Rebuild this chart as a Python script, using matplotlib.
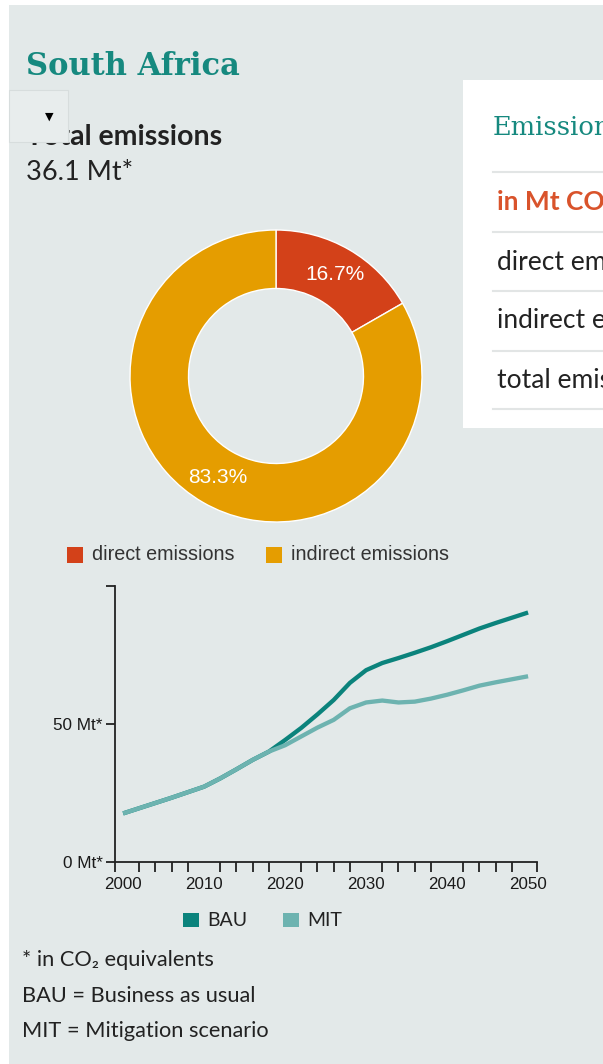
import numpy as np
import matplotlib.pyplot as plt
from matplotlib.patches import Rectangle
from matplotlib.lines import Line2D

W, H = 603, 1064

# donut: share of total emissions (36.1 Mt CO2e)
total_mt = 36.1
share_names = ['direct emissions', 'indirect emissions']
shares = [16.7, 83.3]
share_colors = ['#d34119', '#e59d00']

# scenario lines, Mt CO2e
years = np.arange(2000, 2051, 2)
bau = [17.6, 19.5, 21.4, 23.3, 25.3, 27.3, 30.3, 33.6, 37.0, 40.0,
       44.2, 48.6, 53.5, 58.7, 64.9, 69.5, 72.1, 73.9, 75.8, 77.8,
       80.0, 82.3, 84.6, 86.6, 88.5, 90.4]
mit = [17.6, 19.5, 21.4, 23.3, 25.3, 27.3, 30.3, 33.6, 37.0, 40.0,
       42.3, 45.5, 48.7, 51.5, 55.7, 57.8, 58.5, 57.8, 58.1, 59.2,
       60.6, 62.2, 63.9, 65.1, 66.2, 67.3]
line_names = ['BAU', 'MIT']
line_colors = ['#0b837c', '#6db3b0']

table_rows = ['in Mt CO\u2082', 'direct emissions', 'indirect emissions', 'total emissions']

BG = '#e3e9e9'
TEAL = '#16897f'
SANS = ['Lato', 'DejaVu Sans']
ARIAL = ['Liberation Sans', 'DejaVu Sans']


def fx(x):
    return x / W


def fy(y):
    return 1 - y / H


def ftext(x, y, s, **kw):
    kw.setdefault('va', 'baseline')
    kw.setdefault('family', SANS)
    kw.setdefault('color', '#222222')
    fig.text(fx(x), fy(y), s, **kw)


def frect(x0, y0, x1, y1, **kw):
    fig.patches.append(Rectangle((fx(x0), fy(y1)), (x1 - x0) / W, (y1 - y0) / H,
                                 transform=fig.transFigure, **kw))


fig = plt.figure(figsize=(W / 100, H / 100), dpi=100)
fig.patch.set_facecolor('white')
frect(9, 5, W, H, facecolor=BG, edgecolor='none', zorder=-2)

# header
ftext(26, 75, 'South Africa', family='DejaVu Serif', fontsize=22, fontweight='bold',
      color=TEAL)
ftext(26, 145, 'Total emissions', fontsize=20.5, fontweight='bold')
ftext(26, 180, '%.1f Mt*' % total_mt, fontsize=19.5)
frect(9, 90, 68, 142, facecolor='#e8eded', edgecolor='#d7dddd', lw=0.8, zorder=4)
fig.text(fx(49), fy(117), '\u25bc', fontsize=8, ha='center', va='center',
         color='black', zorder=5, family='DejaVu Sans')

# table panel on the right (cut off by the page edge)
frect(463, 80, W, 428, facecolor='white', edgecolor='none', zorder=-1)
ftext(493, 135, 'Emissions', family='DejaVu Serif', fontsize=18.5, color=TEAL)
for yl in [172, 232, 291, 351, 409]:
    fig.add_artist(Line2D([fx(493), 1], [fy(yl), fy(yl)], transform=fig.transFigure,
                          color='#e2e5e5', lw=1.5))
for i, (row, yb) in enumerate(zip(table_rows, [210, 270, 328, 388])):
    ftext(497, yb, row, fontsize=19, fontweight='bold' if i == 0 else 'normal',
          color='#d9532b' if i == 0 else '#222222')

# donut
ax_pie = fig.add_axes([fx(126), fy(526), 300 / W, 300 / H])
ax_pie.pie(shares, colors=share_colors, startangle=90, counterclock=False,
           radius=146 / 150, autopct='%.1f%%', pctdistance=0.8,
           wedgeprops=dict(width=58.5 / 150, edgecolor='white', linewidth=1),
           textprops=dict(color='white', fontsize=15, family=ARIAL))
ax_pie.set_xlim(-1, 1)
ax_pie.set_ylim(-1, 1)
ax_pie.axis('off')

for name, col, x0 in zip(share_names, share_colors, [67, 266]):
    frect(x0, 547, x0 + 16, 563, facecolor=col, edgecolor='none')
    ftext(x0 + 25, 555, name, va='center', family=ARIAL, fontsize=14.2, color='#333333')

# scenario chart
ax = fig.add_axes([fx(115), fy(862), (537 - 115) / W, (862 - 586) / H])
ax.set_facecolor('none')
for vals, col in zip([bau, mit], line_colors):
    ax.plot(years, vals, color=col, lw=3.1, solid_joinstyle='round', solid_capstyle='butt')
x0, x1 = 1999.0, 2051.1
ax.set_xlim(x0, x1)
ax.set_ylim(0, 100)
for s in ['top', 'right']:
    ax.spines[s].set_visible(False)
for s in ['left', 'bottom']:
    ax.spines[s].set_color('#222222')
    ax.spines[s].set_linewidth(1.3)
ax.set_xticks(np.arange(2000, 2051, 10))
ax.set_xticks([x0] + list(range(2000, 2049, 2)) + [x1], minor=True)
ax.tick_params(axis='x', which='major', length=0, pad=11, labelsize=12.2,
               labelcolor='#1a1a1a')
ax.tick_params(axis='x', which='minor', length=7, width=1.3, color='#222222')
ax.set_yticks([0, 50, 100])
ax.set_yticklabels(['0 Mt*', '50 Mt*', ''])
ax.tick_params(axis='y', length=6.5, width=1.3, color='#222222', pad=2.5, labelsize=12.3,
               labelcolor='#1a1a1a')
for lab in ax.get_xticklabels() + ax.get_yticklabels():
    lab.set_family(ARIAL)

for name, col, xs in zip(line_names, line_colors, [183, 283]):
    frect(xs, 913, xs + 16, 927, facecolor=col, edgecolor='none')
    ftext(xs + 24, 920, name, va='center', fontsize=14)

# footnotes
ftext(22, 966, '* in CO\u2082 equivalents', fontsize=15.7)
ftext(22, 1002, 'BAU = Business as usual', fontsize=15.7)
ftext(22, 1037, 'MIT = Mitigation scenario', fontsize=15.7)

fig.savefig('out.png', dpi=100, facecolor=fig.get_facecolor())
